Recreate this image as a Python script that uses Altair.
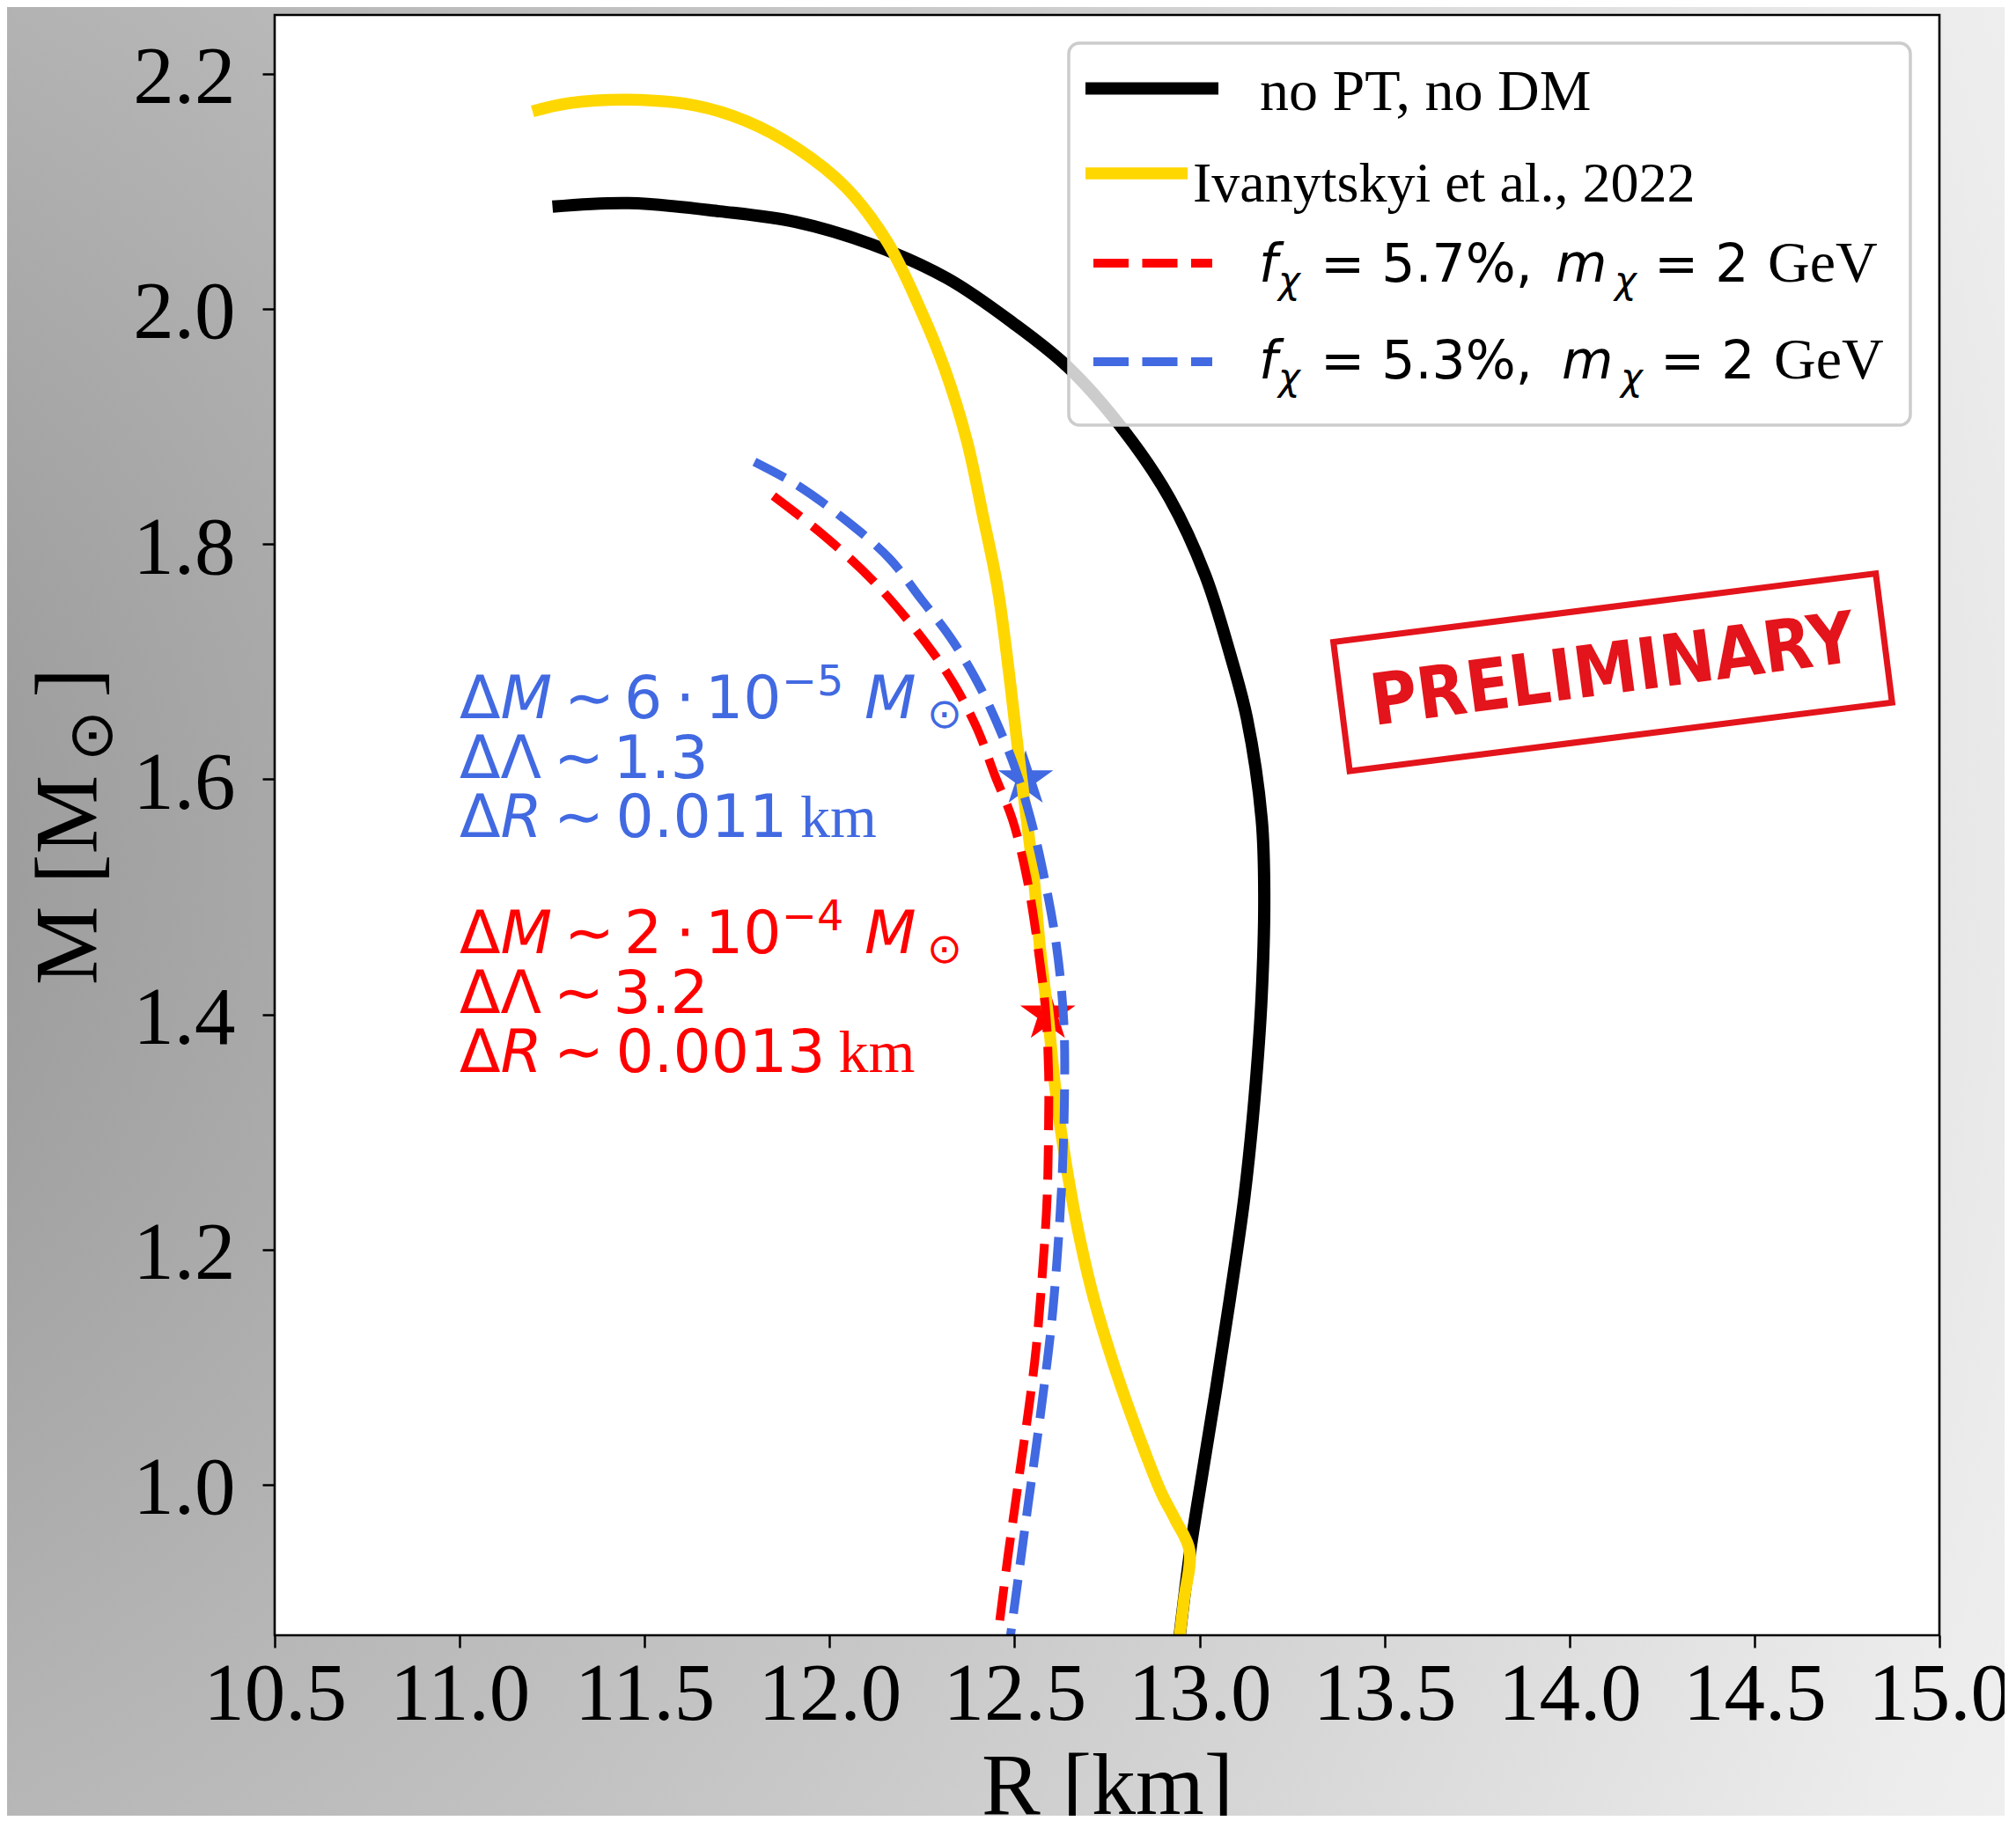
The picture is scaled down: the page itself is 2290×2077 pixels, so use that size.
import altair as alt
import pandas as pd

# ---------------- data ----------------
black_R = [11.251, 11.458, 11.704, 11.908, 12.113, 12.318, 12.496, 12.646, 12.797,
           12.919, 13.015, 13.083, 13.128, 13.168, 13.175, 13.168, 13.149, 13.121,
           13.082, 13.044, 13.008, 12.975, 12.942]
black_M = [2.087, 2.090, 2.083, 2.074, 2.055, 2.026, 1.988, 1.950, 1.896,
           1.839, 1.774, 1.706, 1.652, 1.566, 1.502, 1.416, 1.330, 1.244,
           1.158, 1.080, 1.010, 0.944, 0.860]

yellow_R = [11.197, 11.295, 11.458, 11.637, 11.773, 11.910, 12.045, 12.156, 12.245,
            12.310, 12.371, 12.414, 12.454, 12.486, 12.509, 12.534, 12.553, 12.568,
            12.592, 12.608, 12.632, 12.668, 12.708, 12.755, 12.804, 12.851, 12.897,
            12.935, 12.973, 12.958, 12.942]
yellow_M = [2.168, 2.175, 2.178, 2.173, 2.160, 2.137, 2.103, 2.057, 2.000,
            1.950, 1.888, 1.825, 1.763, 1.688, 1.626, 1.563, 1.513, 1.459,
            1.394, 1.343, 1.287, 1.222, 1.166, 1.115, 1.069, 1.029, 0.993,
            0.970, 0.944, 0.902, 0.860]

red_R = [11.848, 11.978, 12.120, 12.260, 12.336, 12.399, 12.447, 12.494, 12.534,
         12.568, 12.584, 12.592, 12.592, 12.588, 12.575, 12.558, 12.538, 12.519,
         12.500, 12.482, 12.465, 12.450]
red_M = [1.841, 1.809, 1.768, 1.716, 1.681, 1.643, 1.603, 1.566, 1.515,
         1.446, 1.403, 1.351, 1.308, 1.244, 1.179, 1.115, 1.064, 1.022,
         0.979, 0.939, 0.897, 0.860]

blue_R = [11.797, 11.908, 12.045, 12.161, 12.248, 12.328, 12.399, 12.455, 12.503,
          12.542, 12.574, 12.613, 12.633, 12.635, 12.629, 12.617, 12.600, 12.573,
          12.556, 12.537, 12.519, 12.502, 12.484]
blue_M = [1.870, 1.851, 1.820, 1.788, 1.753, 1.720, 1.683, 1.646, 1.608,
          1.568, 1.526, 1.459, 1.394, 1.330, 1.265, 1.201, 1.137, 1.067,
          1.027, 0.984, 0.942, 0.902, 0.860]

star_R = [12.53, 12.59]
star_M = [1.60, 1.40]
star_col = ["#4169E1", "#FF0000"]

x_ticks = [10.5, 11.0, 11.5, 12.0, 12.5, 13.0, 13.5, 14.0, 14.5, 15.0]
y_ticks = [1.0, 1.2, 1.4, 1.6, 1.8, 2.0, 2.2]

legend_plain = ["no PT, no DM", "Ivanytskyi et al., 2022"]
legend_frac = ["5.7%", "5.3%"]

blue_vals = ["6", "\u22125", "1.3", "0.011"]
red_vals = ["2", "\u22124", "3.2", "0.0013"]

# ---------------- layout / style ----------------
W, H = 1891, 1841
SANS = "DejaVu Sans"
SERIF = "Liberation Serif"
BLUE, RED, GOLD = "#4169E1", "#FF0000", "#FFD700"
ONE = pd.DataFrame({"k": [0]})

xscale = alt.Scale(domain=[10.5, 15.0], nice=False, zero=False)
yscale = alt.Scale(domain=[0.872, 2.25], nice=False, zero=False)
xaxis = alt.Axis(values=x_ticks, format=".1f", labelFont=SERIF, labelFontSize=93,
                 labelColor="black", labelPadding=8, labelFlush=False, labelOverlap=False,
                 tickSize=14, tickWidth=2.5, tickColor="black", domain=False, grid=False,
                 title="R [km]", titleFont=SERIF, titleFontSize=100, titleFontWeight="normal",
                 titleColor="black", titleBaseline="alphabetic", titleAlign="center",
                 titleX=W / 2, titleY=202, zindex=1)
yaxis = alt.Axis(values=y_ticks, format=".1f", labelFont=SERIF, labelFontSize=93,
                 labelColor="black", labelPadding=31, labelOverlap=False, labelOffset=5,
                 tickSize=14, tickWidth=2.5, tickColor="black", domain=False, grid=False,
                 title=None, zindex=1)
X = alt.X("R:Q", scale=xscale, axis=xaxis)
Y = alt.Y("M:Q", scale=yscale, axis=yaxis)


def curve(R, M, color, width, dash=None):
    df = pd.DataFrame({"R": R, "M": M, "i": list(range(len(R)))})
    kw = dict(color=color, strokeWidth=width, clip=True, interpolate="catmull-rom",
              strokeJoin="round")
    if dash:
        kw["strokeDash"] = dash
    return alt.Chart(df).mark_line(**kw).encode(x=X, y=Y, order="i:Q")


def ann(R, M, text, dx, color, size=68, font=SANS, style="normal", dy=0, align="left"):
    df = pd.DataFrame({"R": [R], "M": [M]})
    return alt.Chart(df).mark_text(text=text, dx=dx, dy=dy, fontSize=size, font=font,
                                   fontStyle=style, color=color, align=align,
                                   baseline="alphabetic").encode(x=X, y=Y)


def ptxt(text, x, y, size, font=SANS, color="black", style="normal", align="left",
         baseline="alphabetic", angle=0):
    return alt.Chart(ONE).mark_text(text=text, fontSize=size, font=font, fontStyle=style,
                                    color=color, align=align, baseline=baseline,
                                    angle=angle).encode(x=alt.value(x), y=alt.value(y))


def prule(x1, x2, y, color, width, dash=None):
    kw = dict(color=color, strokeWidth=width, strokeCap="butt")
    if dash:
        kw["strokeDash"] = dash
    return alt.Chart(ONE).mark_rule(**kw).encode(x=alt.value(x1), x2=alt.value(x2),
                                                 y=alt.value(y))


layers = []

# background gradient (whole canvas) and white plot area
grad = alt.RadialGradient(
    gradient="radial",
    stops=[alt.GradientStop(color="#8e8e8e", offset=0),
           alt.GradientStop(color="#9e9e9e", offset=0.14),
           alt.GradientStop(color="#b8b8b8", offset=0.37),
           alt.GradientStop(color="#d0d0d0", offset=0.6),
           alt.GradientStop(color="#ececec", offset=0.85),
           alt.GradientStop(color="#f6f6f6", offset=1)],
    x1=-0.2, y1=0.47, r1=0, x2=-0.2, y2=0.47, r2=1.45)
layers.append(alt.Chart(ONE).mark_rect(fill=grad).encode(
    x=alt.value(-304), x2=alt.value(W + 74), y=alt.value(-9), y2=alt.value(H + 205)))
layers.append(alt.Chart(ONE).mark_rect(fill="white").encode(
    x=alt.value(0), x2=alt.value(W), y=alt.value(0), y2=alt.value(H)))

# curves
layers.append(curve(black_R, black_M, "black", 14))
STAR = ("M0,-1L0.2245,-0.309L0.9511,-0.309L0.3633,0.118L0.5878,0.809L0,0.382"
        "L-0.5878,0.809L-0.3633,0.118L-0.9511,-0.309L-0.2245,-0.309Z")
layers.append(alt.Chart(pd.DataFrame({"R": star_R, "M": star_M, "c": star_col}))
              .mark_point(shape=STAR, size=4356, filled=True, opacity=1, strokeWidth=0)
              .encode(x=X, y=Y, color=alt.Color("c:N", scale=None)))
layers.append(curve(yellow_R, yellow_M, GOLD, 13.5))
layers.append(curve(red_R, red_M, RED, 10, [39, 17]))
layers.append(curve(blue_R, blue_M, BLUE, 10, [39, 17]))

# annotations
for col, vals, M0 in [(BLUE, blue_vals, 1.652), (RED, red_vals, 1.452)]:
    M1, M2 = M0 - 0.051, M0 - 0.101
    layers += [
        ann(11.0, M0, "\u0394", 0, col),
        ann(11.0, M0, "M", 46.5, col, style="italic"),
        ann(11.0, M0, "\u223c", 119, col),
        ann(11.0, M0, vals[0], 187, col),
        ann(11.0, M0, "\u22c5", 256.5, col, align="center"),
        ann(11.0, M0, "10", 279, col),
        ann(11.0, M0, vals[1], 366, col, size=47.6, dy=-26),
        ann(11.0, M0, "M", 460, col, style="italic"),
        ann(11.0, M0, "\u2299", 531, col, size=47.6, dy=11),
        ann(11.0, M1, "\u0394", 0, col),
        ann(11.0, M1, "\u039b", 46.5, col),
        ann(11.0, M1, "\u223c", 107, col),
        ann(11.0, M1, vals[2], 174.5, col),
        ann(11.0, M2, "\u0394", 0, col),
        ann(11.0, M2, "R", 46.5, col, style="italic"),
        ann(11.0, M2, "\u223c", 107, col),
        ann(11.0, M2, vals[3], 177.5, col),
        ann(11.0, M2, "km", 387 if col == BLUE else 430.5, col, font=SERIF),
    ]

# PRELIMINARY stamp
STAMP = "#e3141b"
layers.append(alt.Chart(pd.DataFrame({"R": [14.117], "M": [1.691]}))
              .mark_point(shape="M-1,-0.238L1,-0.238L1,0.238L-1,0.238Z", size=621 ** 2,
                          filled=False, color=STAMP, strokeWidth=7, angle=352.8, opacity=1)
              .encode(x=X, y=Y))
layers.append(alt.Chart(pd.DataFrame({"R": [14.117], "M": [1.691]}))
              .mark_text(text="PRELIMINARY", font="DejaVu Sans Condensed, DejaVu Sans, sans-serif",
                         fontSize=81, fontWeight="bold", color=STAMP, angle=352.4,
                         align="center", baseline="middle")
              .encode(x=X, y=Y))

# legend
layers.append(alt.Chart(ONE).mark_rect(fill="white", fillOpacity=0.8, stroke="#cccccc",
                                       strokeWidth=3.5, cornerRadius=12).encode(
    x=alt.value(902), x2=alt.value(1858), y=alt.value(32), y2=alt.value(466)))
layers += [
    prule(921, 1072, 83.5, "black", 14),
    prule(921, 1037, 180, GOLD, 13.5),
    prule(930, 1065, 282, RED, 10, [40, 15.5]),
    prule(930, 1065, 394, BLUE, 10, [40, 15.5]),
    ptxt(legend_plain[0], 1119, 108, 66, font=SERIF),
    ptxt(legend_plain[1], 1043, 212, 64, font=SERIF),
]
for frac, yb, xs in [(legend_frac[0], 303, (1455, 1522, 1567, 1696)),
                     (legend_frac[1], 413, (1462, 1529, 1574, 1703))]:
    layers += [
        ptxt("f", 1118, yb, 60, style="italic"),
        ptxt("\u03c7", 1140, yb + 13, 42, style="italic"),
        ptxt("= " + frac + ",", 1188, yb, 60),
        ptxt("m", xs[0], yb, 60, style="italic"),
        ptxt("\u03c7", xs[1], yb + 13, 42, style="italic"),
        ptxt("= 2", xs[2], yb, 60),
        ptxt("GeV", xs[3], yb, 66, font=SERIF),
    ]

# frame (spines)
layers.append(alt.Chart(ONE).mark_rect(fillOpacity=0, stroke="black", strokeWidth=2.6).encode(
    x=alt.value(0), x2=alt.value(W), y=alt.value(0), y2=alt.value(H)))

# y-axis title: M [M_sun]
layers += [
    ptxt("M [M", -202, 983, 101, font=SERIF, align="center", angle=270),
    ptxt("\u2299", -185, 819, 70, align="center", angle=270),
    ptxt("]", -202, 759, 101, font=SERIF, align="center", angle=270),
]

chart = alt.layer(*layers).properties(
    width=W, height=H,
    autosize=alt.AutoSizeParams(type="none"),
    padding={"left": 304, "top": 9, "right": 74, "bottom": 205},
).configure_view(strokeWidth=0)

chart.save("out.html", embed_options={"renderer": "svg", "actions": False})
